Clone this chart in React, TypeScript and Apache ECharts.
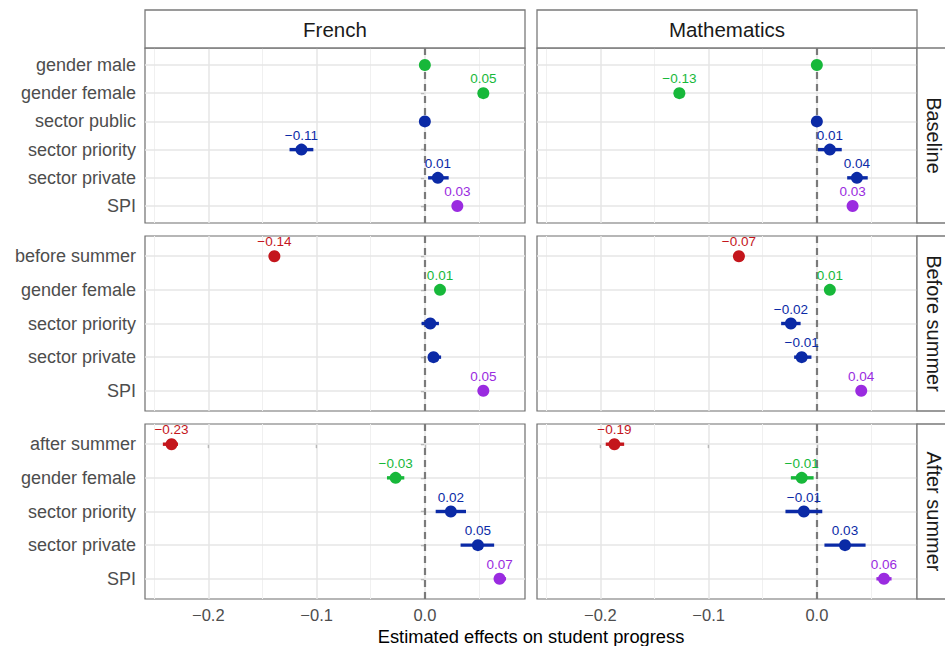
import React, { useEffect, useRef } from "react";
import * as echarts from "echarts";

// ---------- data ----------
const subjects = ["French", "Mathematics"];
const periods = ["Baseline", "Before summer", "After summer"];

const baselineTerms = ["gender male", "gender female", "sector public", "sector priority", "sector private", "SPI"];
const beforeTerms = ["before summer", "gender female", "sector priority", "sector private", "SPI"];
const afterTerms = ["after summer", "gender female", "sector priority", "sector private", "SPI"];

// French
const frBaselineEst = [0, 0.054, 0, -0.114, 0.012, 0.03];
const frBaselineLo = [0, 0.054, 0, -0.125, 0.003, 0.028];
const frBaselineHi = [0, 0.054, 0, -0.103, 0.022, 0.032];
const frBaselineLabel = [false, true, false, true, true, true];

const frBeforeEst = [-0.139, 0.014, 0.005, 0.008, 0.054];
const frBeforeLo = [-0.141, 0.013, -0.003, 0.003, 0.053];
const frBeforeHi = [-0.137, 0.016, 0.013, 0.015, 0.055];
const frBeforeLabel = [true, true, false, false, true];

const frAfterEst = [-0.234, -0.027, 0.024, 0.049, 0.069];
const frAfterLo = [-0.242, -0.035, 0.01, 0.033, 0.065];
const frAfterHi = [-0.228, -0.019, 0.038, 0.064, 0.075];
const frAfterLabel = [true, true, true, true, true];

// Mathematics
const maBaselineEst = [0, -0.127, 0, 0.012, 0.037, 0.033];
const maBaselineLo = [0, -0.128, 0, 0.001, 0.028, 0.031];
const maBaselineHi = [0, -0.126, 0, 0.023, 0.047, 0.035];
const maBaselineLabel = [false, true, false, true, true, true];

const maBeforeEst = [-0.072, 0.012, -0.024, -0.014, 0.041];
const maBeforeLo = [-0.074, 0.011, -0.033, -0.021, 0.04];
const maBeforeHi = [-0.07, 0.013, -0.015, -0.005, 0.042];
const maBeforeLabel = [true, true, true, true, true];

const maAfterEst = [-0.187, -0.014, -0.012, 0.026, 0.062];
const maAfterLo = [-0.195, -0.024, -0.029, 0.007, 0.055];
const maAfterHi = [-0.178, -0.003, 0.005, 0.045, 0.069];
const maAfterLabel = [true, true, true, true, true];

const xTicks = [-0.2, -0.1, 0.0];
const xMinorGrid = [-0.25, -0.15, -0.05, 0.05];
const xTitle = "Estimated effects on student progress";

// ---------- layout / style ----------
const X_MIN = -0.2585;
const X_MAX = 0.0925;
const COL_LEFT = [145, 537];
const PANEL_W = 380;
const ROW_TOP = [48, 236, 424];
const PANEL_H = 175;
const STRIP_TOP = 10;
const FONT = "'Liberation Sans', Arial, Helvetica, sans-serif";

const COLORS = {
  gender: "#17b83a",
  sector: "#0b2aa6",
  spi: "#9a2be0",
  summer: "#c4161c",
};

function termColor(t: string) {
  if (t.startsWith("gender")) return COLORS.gender;
  if (t.startsWith("sector")) return COLORS.sector;
  if (t === "SPI") return COLORS.spi;
  return COLORS.summer;
}

function fmt(v: number, digits: number) {
  const s = Math.abs(v).toFixed(digits);
  return v < 0 ? "\u2212" + s : s;
}

const panels = [
  { row: 0, col: 0, terms: baselineTerms, est: frBaselineEst, lo: frBaselineLo, hi: frBaselineHi, lab: frBaselineLabel },
  { row: 0, col: 1, terms: baselineTerms, est: maBaselineEst, lo: maBaselineLo, hi: maBaselineHi, lab: maBaselineLabel },
  { row: 1, col: 0, terms: beforeTerms, est: frBeforeEst, lo: frBeforeLo, hi: frBeforeHi, lab: frBeforeLabel },
  { row: 1, col: 1, terms: beforeTerms, est: maBeforeEst, lo: maBeforeLo, hi: maBeforeHi, lab: maBeforeLabel },
  { row: 2, col: 0, terms: afterTerms, est: frAfterEst, lo: frAfterLo, hi: frAfterHi, lab: frAfterLabel },
  { row: 2, col: 1, terms: afterTerms, est: maAfterEst, lo: maAfterLo, hi: maAfterHi, lab: maAfterLabel },
];

function buildOption() {
  const grid: any[] = [];
  const xAxis: any[] = [];
  const yAxis: any[] = [];
  const series: any[] = [];

  panels.forEach((p, i) => {
    const n = p.terms.length;
    const idx = p.terms.map((_, k) => k);
    const bottom = p.row === 2;
    const left = p.col === 0;
    grid.push({
      left: COL_LEFT[p.col],
      top: ROW_TOP[p.row],
      width: PANEL_W,
      height: PANEL_H,
      show: true,
      backgroundColor: "#ffffff",
      borderColor: "#6e6e6e",
      borderWidth: 1.2,
    });
    xAxis.push({
      type: "value",
      gridIndex: i,
      min: X_MIN,
      max: X_MAX,
      axisLine: { show: false },
      splitLine: { show: false },
      axisTick: {
        show: bottom,
        customValues: xTicks,
        length: 4,
        lineStyle: { color: "#333333", width: 1.2 },
      },
      axisLabel: {
        show: bottom,
        customValues: xTicks,
        formatter: (v: number) => fmt(v, 1),
        color: "#4d4d4d",
        fontSize: 16.5,
        fontFamily: FONT,
        margin: 7,
      },
    });
    yAxis.push({
      type: "value",
      gridIndex: i,
      inverse: true,
      min: -0.6,
      max: n - 0.4,
      axisLine: { show: false },
      splitLine: { show: false },
      axisTick: {
        show: left,
        customValues: idx,
        length: 4,
        lineStyle: { color: "#333333", width: 1.2 },
      },
      axisLabel: {
        show: left,
        customValues: idx,
        formatter: (v: number) => p.terms[Math.round(v)],
        color: "#4d4d4d",
        fontSize: 18,
        fontFamily: FONT,
        margin: 9,
      },
    });

    // grid lines (major + minor)
    series.push({
      type: "scatter",
      xAxisIndex: i,
      yAxisIndex: i,
      data: [],
      silent: true,
      markLine: {
        silent: true,
        symbol: "none",
        z: 1,
        animation: false,
        label: { show: false },
        emphasis: { disabled: true },
        lineStyle: { color: "#e6e6e6", width: 1.5, type: "solid" },
        data: [
          ...xMinorGrid.map((v) => ({ xAxis: v, lineStyle: { color: "#f0f0f0", width: 1, type: "solid" } })),
          ...xTicks.map((v) => ({ xAxis: v })),
          ...idx.map((k) => ({ yAxis: k })),
        ],
      },
    });
    // dashed zero line
    series.push({
      type: "scatter",
      xAxisIndex: i,
      yAxisIndex: i,
      data: [],
      silent: true,
      markLine: {
        silent: true,
        symbol: "none",
        z: 2,
        animation: false,
        label: { show: false },
        emphasis: { disabled: true },
        lineStyle: { color: "#7a7a7a", width: 2.2, type: [7, 5] },
        data: [{ xAxis: 0 }],
      },
    });

    // error bars
    series.push({
      type: "custom",
      xAxisIndex: i,
      yAxisIndex: i,
      z: 3,
      silent: true,
      encode: { x: [0, 2], y: 1 },
      data: idx.map((k) => [p.lo[k], k, p.hi[k]]),
      renderItem: (params: any, api: any) => {
        const k = params.dataIndex;
        const a = api.coord([api.value(0), api.value(1)]);
        const b = api.coord([api.value(2), api.value(1)]);
        return {
          type: "line",
          shape: { x1: a[0], y1: a[1], x2: b[0], y2: b[1] },
          style: { stroke: termColor(p.terms[k]), lineWidth: 3.4, lineCap: "butt" },
        };
      },
    });

    // points + labels
    series.push({
      type: "scatter",
      xAxisIndex: i,
      yAxisIndex: i,
      z: 4,
      symbol: "circle",
      symbolSize: 12,
      silent: true,
      data: idx.map((k) => ({
        value: [p.est[k], k],
        itemStyle: { color: termColor(p.terms[k]), opacity: 1 },
        label: {
          show: p.lab[k],
          color: termColor(p.terms[k]),
        },
      })),
      label: {
        position: "top",
        distance: 1.5,
        fontSize: 13.5,
        fontFamily: FONT,
        formatter: (q: any) => fmt(q.value[0], 2),
      },
    });
  });

  const graphic: any[] = [];
  subjects.forEach((s, c) => {
    graphic.push({
      type: "rect",
      shape: { x: COL_LEFT[c], y: STRIP_TOP, width: PANEL_W, height: ROW_TOP[0] - STRIP_TOP },
      style: { fill: "#ffffff", stroke: "#7a7a7a", lineWidth: 1.3 },
      z: 10,
    });
    graphic.push({
      type: "text",
      x: COL_LEFT[c] + PANEL_W / 2,
      y: (STRIP_TOP + ROW_TOP[0]) / 2,
      style: {
        text: s,
        fill: "#1a1a1a",
        fontSize: 20.5,
        fontFamily: FONT,
        align: "center",
        verticalAlign: "middle",
      },
      z: 11,
    });
  });
  periods.forEach((s, r) => {
    const x0 = COL_LEFT[1] + PANEL_W;
    graphic.push({
      type: "rect",
      shape: { x: x0, y: ROW_TOP[r], width: 40, height: PANEL_H },
      style: { fill: "#ffffff", stroke: "#7a7a7a", lineWidth: 1.3 },
      z: 10,
    });
    graphic.push({
      type: "text",
      x: x0 + 16.5,
      y: ROW_TOP[r] + PANEL_H / 2,
      rotation: -Math.PI / 2,
      style: {
        text: s,
        fill: "#1a1a1a",
        fontSize: 20,
        fontFamily: FONT,
        align: "center",
        verticalAlign: "middle",
      },
      z: 11,
    });
  });
  graphic.push({
    type: "text",
    x: (COL_LEFT[0] + COL_LEFT[1] + PANEL_W) / 2,
    y: 636,
    style: {
      text: xTitle,
      fill: "#000000",
      fontSize: 18.3,
      fontFamily: FONT,
      align: "center",
      verticalAlign: "middle",
    },
    z: 11,
  });

  return {
    animation: false,
    backgroundColor: "#ffffff",
    textStyle: { fontFamily: FONT },
    grid,
    xAxis,
    yAxis,
    series,
    graphic,
  };
}

export default function App() {
  const ref = useRef<HTMLDivElement>(null);
  useEffect(() => {
    if (!ref.current) return;
    const chart = echarts.init(ref.current, undefined, { renderer: "svg" });
    chart.setOption(buildOption() as any);
    return () => chart.dispose();
  }, []);
  return (
    <div
      ref={ref}
      style={{ position: "absolute", left: 0, top: 0, width: 945, height: 646, background: "#fff" }}
    />
  );
}
